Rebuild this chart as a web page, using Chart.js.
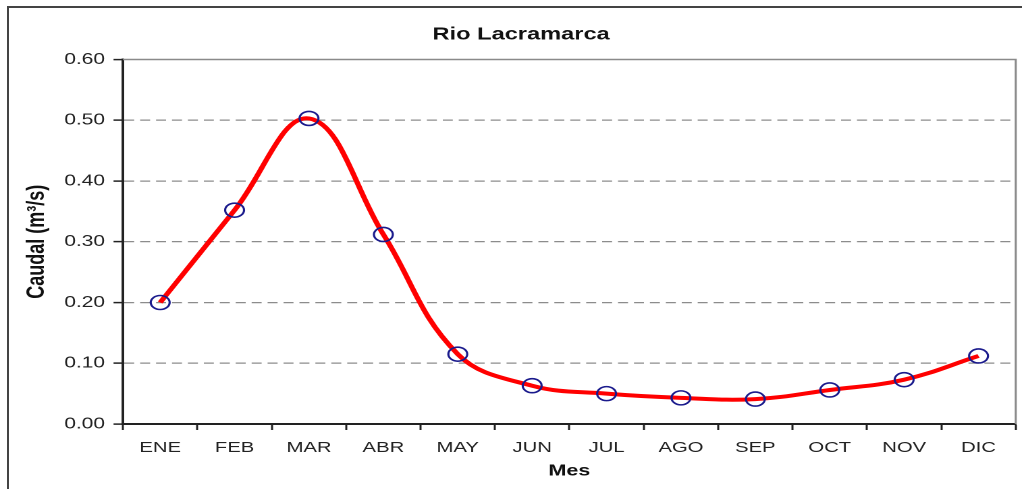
<!DOCTYPE html>
<html>
<head>
<meta charset="utf-8">
<script src="https://cdn.jsdelivr.net/npm/chart.js@4/dist/chart.umd.min.js"></script>
<style>
  html, body { margin: 0; padding: 0; background: #fff; overflow: hidden; }
  body { width: 1022px; height: 489px; position: relative; }
  /* outer frame of the original Excel chart */
  #frame { position: absolute; left: 7px; top: 6px; width: 1100px; height: 600px; border: 2px solid #444; }
  /* the source picture is stretched sideways, so the chart is drawn narrow and widened */
  #wrap { position: absolute; left: 0; top: 0; width: 761px; height: 489px; transform: scaleX(1.35); transform-origin: 0 0; }
</style>
</head>
<body>
<div id="frame"></div>
<div id="wrap"><canvas id="chartCanvas" width="761" height="489"></canvas></div>
<script>
// --- data ---
const months = ["ENE", "FEB", "MAR", "ABR", "MAY", "JUN", "JUL", "AGO", "SEP", "OCT", "NOV", "DIC"];
const caudal = [0.200, 0.352, 0.503, 0.312, 0.115, 0.063, 0.050, 0.043, 0.041, 0.056, 0.073, 0.112];
const yTicks = [0, 0.1, 0.2, 0.3, 0.4, 0.5, 0.6];

const FONT = "'Liberation Sans', Arial, sans-serif";

// gray frame on top and right of the plot area
const plotFrame = {
  id: "plotFrame",
  beforeDatasetsDraw(chart) {
    const { ctx, chartArea: a } = chart;
    ctx.save();
    ctx.strokeStyle = "#8a8a8a";
    ctx.lineWidth = 1.5;
    ctx.beginPath();
    ctx.moveTo(a.left, a.top);
    ctx.lineTo(a.right, a.top);
    ctx.lineTo(a.right, a.bottom);
    ctx.stroke();
    ctx.restore();
  }
};

new Chart(document.getElementById("chartCanvas"), {
  type: "line",
  data: {
    labels: months,
    datasets: [{
      label: "Caudal",
      data: caudal,
      borderColor: "#ff0000",
      borderWidth: 4,
      tension: 0.4,
      pointStyle: "circle",
      pointRadius: 7,
      pointBorderWidth: 1.6,
      pointBorderColor: "#1a1a8c",
      pointBackgroundColor: "rgba(0,0,0,0)"
    }]
  },
  plugins: [plotFrame],
  options: {
    responsive: false,
    devicePixelRatio: 2,
    animation: false,
    layout: { padding: { left: 11, right: 0, top: 0, bottom: 0 } },
    plugins: {
      legend: { display: false },
      tooltip: { enabled: false },
      title: {
        display: true,
        text: "Rio Lacramarca",
        color: "#111",
        font: { family: FONT, size: 17.5, weight: "bold" },
        padding: { top: 24, bottom: 14.5 }
      }
    },
    scales: {
      x: {
        type: "category",
        offset: true,
        grid: { offset: true, drawOnChartArea: false, drawTicks: true, tickLength: 6, tickColor: "#222", tickWidth: 1.5 },
        border: { color: "#222", width: 2 },
        ticks: { color: "#222", padding: 9, font: { family: FONT, size: 15 } },
        title: { display: true, text: "Mes", color: "#111", font: { family: FONT, size: 16, weight: "bold" }, padding: { top: 0, bottom: 8.4 } },
        afterFit(scale) { scale.height = 65; }
      },
      y: {
        min: 0,
        max: 0.6,
        afterBuildTicks(scale) { scale.ticks = yTicks.map(v => ({ value: v })); },
        grid: {
          color: c => (c.tick && (c.tick.value === 0 || c.tick.value === 0.6)) ? "rgba(0,0,0,0)" : "#8c8c8c",
          lineWidth: 1.2,
          tickLength: 7,
          tickColor: "#222",
          tickWidth: 1.5,
          tickBorderDash: []
        },
        border: { color: "#222", width: 2, dash: [7.4, 4.4] },
        ticks: {
          color: "#222",
          padding: 6.3,
          font: { family: FONT, size: 15.5 },
          callback: v => Number(v).toFixed(2)
        },
        title: { display: true, text: "Caudal (m³/s)", color: "#111", font: { family: FONT, size: 18, weight: "bold" }, padding: { top: 5.6, bottom: 0 } },
        afterFit(scale) { scale.width = 80.1; }
      }
    }
  }
});
</script>
</body>
</html>
